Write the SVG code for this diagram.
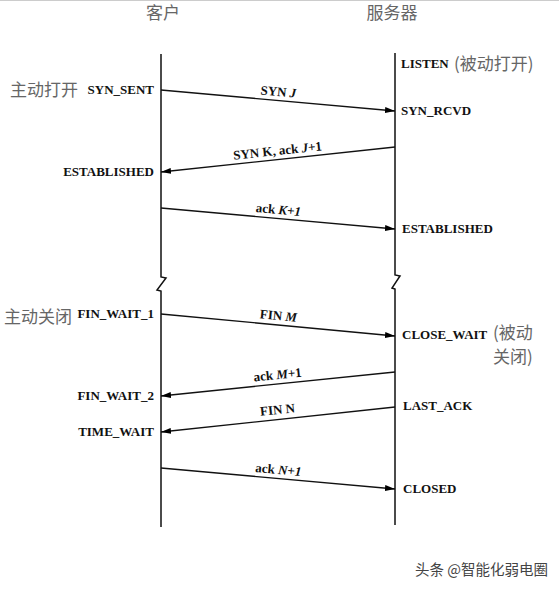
<svg xmlns="http://www.w3.org/2000/svg" width="559" height="590" viewBox="0 0 559 590">
<defs>
<marker id="ah" viewBox="0 0 10 6" refX="10" refY="3" markerWidth="10" markerHeight="6" markerUnits="userSpaceOnUse" orient="auto">
<path d="M0,0 L10,3 L0,6 Z" fill="#000"/>
</marker>
<style>
.st{font-family:"Liberation Serif",serif;font-size:13px;font-weight:bold;fill:#111}
.msg{font-family:"Liberation Serif",serif;font-size:13px;font-weight:bold;fill:#111;text-anchor:middle}
.cn{font-family:"Noto Sans CJK SC",sans-serif;font-size:17px;fill:#666}
.wm{font-family:"Noto Sans CJK SC",sans-serif;font-size:14.5px;fill:#444}
.life{fill:none;stroke:#111;stroke-width:1.5}
.arr{stroke:#111;stroke-width:1.3;fill:none;marker-end:url(#ah)}
.r{text-anchor:end}
</style>
</defs>
<rect width="559" height="590" fill="#fff"/>
<line x1="0" y1="0.5" x2="559" y2="0.5" stroke="#ccc" stroke-width="1"/>

<g id="client">
<text class="cn" x="163" y="19" text-anchor="middle">客户</text>
<path class="life" d="M161,54 V277 L166,278 L157,290 L161,291 V527"/>
</g>
<g id="server">
<text class="cn" x="392" y="19" text-anchor="middle">服务器</text>
<path class="life" d="M395,53 V275 L400,276 L392,288 L395,289 V525"/>
</g>

<g id="client-states">
<text class="cn" x="10" y="96">主动打开</text>
<text class="st r" x="154" y="94">SYN_SENT</text>
<text class="st r" x="154" y="176">ESTABLISHED</text>
<text class="cn" x="4" y="323">主动关闭</text>
<text class="st r" x="154" y="318">FIN_WAIT_1</text>
<text class="st r" x="154" y="400">FIN_WAIT_2</text>
<text class="st r" x="154" y="436">TIME_WAIT</text>
</g>

<g id="server-states">
<text class="st" x="401" y="68">LISTEN</text>
<text class="cn" x="454" y="70">(被动打开)</text>
<text class="st" x="401" y="115">SYN_RCVD</text>
<text class="st" x="402" y="233">ESTABLISHED</text>
<text class="st" x="402" y="339">CLOSE_WAIT</text>
<text class="cn" x="493" y="339">(被动</text>
<text class="cn" x="493" y="363">关闭)</text>
<text class="st" x="403" y="410">LAST_ACK</text>
<text class="st" x="403" y="493">CLOSED</text>
</g>

<g id="connectors">
<line class="arr" x1="161" y1="90" x2="395" y2="111"/>
<line class="arr" x1="395" y1="147" x2="161" y2="172"/>
<line class="arr" x1="161" y1="208" x2="395" y2="229"/>
<line class="arr" x1="161" y1="314" x2="395" y2="336"/>
<line class="arr" x1="395" y1="372" x2="161" y2="396"/>
<line class="arr" x1="395" y1="407" x2="161" y2="432"/>
<line class="arr" x1="161" y1="468" x2="395" y2="489"/>
</g>

<g id="labels">
<text class="msg" transform="translate(278,96) rotate(5.1)">SYN <tspan font-style="italic">J</tspan></text>
<text class="msg" transform="translate(278,155) rotate(-6.1)">SYN K, ack <tspan font-style="italic">J</tspan>+1</text>
<text class="msg" transform="translate(278,214) rotate(5.1)">ack <tspan font-style="italic">K+1</tspan></text>
<text class="msg" transform="translate(278,320) rotate(5.4)">FIN <tspan font-style="italic">M</tspan></text>
<text class="msg" transform="translate(278,379) rotate(-5.9)">ack <tspan font-style="italic">M</tspan>+1</text>
<text class="msg" transform="translate(278,414) rotate(-6.1)">FIN N</text>
<text class="msg" transform="translate(278,474) rotate(5.1)">ack <tspan font-style="italic">N+1</tspan></text>
</g>

<g id="watermark">
<text class="wm" x="415" y="575">头条 @智能化弱电圈</text>
</g>
</svg>
